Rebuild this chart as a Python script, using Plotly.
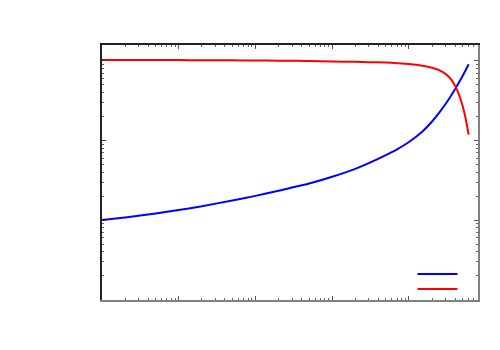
import plotly.graph_objects as go

x = [0.1, 0.2, 0.5, 1, 2, 5, 10, 20, 50, 100, 200, 300, 500, 700, 1000,
     1500, 2000, 2500, 3000, 3500, 4000, 4500, 5000, 5500, 6000]
blue = [0.01007, 0.01084, 0.01216, 0.01343, 0.01496, 0.0177, 0.02018, 0.02344, 0.02884, 0.03508,
        0.04406, 0.05183, 0.06524, 0.07718, 0.0956,
        0.1296, 0.1728, 0.2249, 0.2858, 0.3573, 0.44, 0.5346, 0.6433, 0.7638, 0.9004]
red = [1.02, 1.02, 1.018, 1.015, 1.012, 1.009, 1.005, 1.0, 0.99, 0.977,
       0.965, 0.958, 0.945, 0.93, 0.909,
       0.862, 0.813, 0.755, 0.683, 0.59, 0.483, 0.373, 0.272, 0.186, 0.118]

fig = go.Figure()
fig.add_trace(go.Scatter(x=x, y=blue, mode="lines", name=" ", legend="legend",
                         line=dict(color="#0000ff", width=2, shape="spline", smoothing=0.6)))
fig.add_trace(go.Scatter(x=x, y=red, mode="lines", name=" ", legend="legend2",
                         line=dict(color="#ff0000", width=2, shape="spline", smoothing=0.6)))
# invisible trace so the mirrored top/right axes get drawn
fig.add_trace(go.Scatter(x=x, y=blue, xaxis="x2", yaxis="y2", mode="lines", showlegend=False,
                         hoverinfo="skip", line=dict(color="rgba(0,0,0,0)", width=0)))

xr = [-1.0, 3.9]
yr = [-3.0, 0.196]
common = dict(type="log", showticklabels=False, showgrid=False, zeroline=False,
              ticks="inside", ticklen=4, dtick=1,
              minor=dict(ticks="inside", ticklen=2, tickcolor="#666"))
leg = dict(xanchor="right", yanchor="middle", bgcolor="rgba(0,0,0,0)",
           font=dict(size=9), itemwidth=40)

fig.update_layout(
    width=500, height=350,
    margin=dict(l=94, r=30, t=37, b=58),
    plot_bgcolor="white", paper_bgcolor="white",
    xaxis=dict(range=xr, showline=True, linecolor="#808080", linewidth=1.5, tickcolor="#555", **common),
    xaxis2=dict(range=xr, overlaying="x", side="top", showline=True, linecolor="#222", linewidth=1.5,
                tickcolor="#555", **common),
    yaxis=dict(range=yr, showline=True, linecolor="#222", linewidth=1.5, tickcolor="#333", **common),
    yaxis2=dict(range=yr, overlaying="y", side="right", showline=True, linecolor="#808080", linewidth=1.5,
                tickcolor="#555", **common),
    legend=dict(x=0.98, y=0.102, **leg),
    legend2=dict(x=0.98, y=0.043, **leg),
    showlegend=True,
)

fig.write_html("out.html")
